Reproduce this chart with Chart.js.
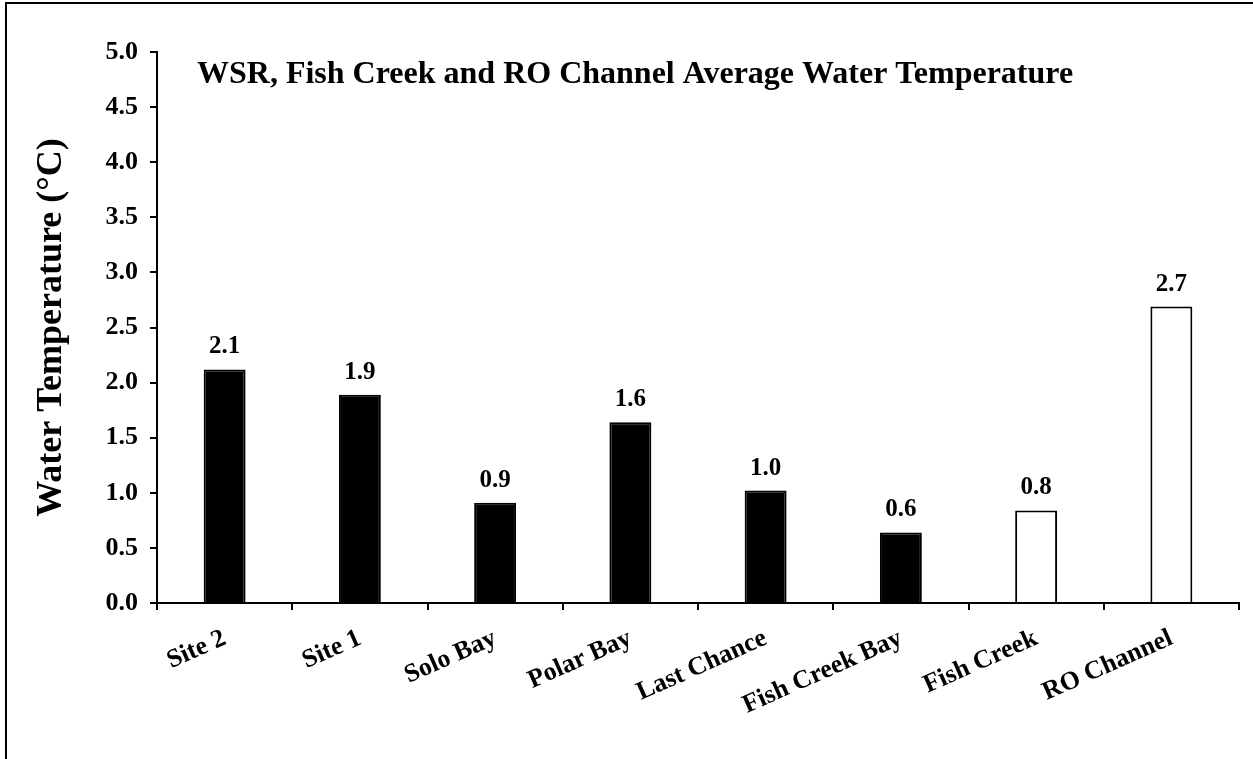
<!DOCTYPE html>
<html>
<head>
<meta charset="utf-8">
<script src="https://cdn.jsdelivr.net/npm/chart.js@4"></script>
<style>
  html, body { margin: 0; padding: 0; background: #fff; }
  #wrap { position: relative; width: 1253px; height: 759px; overflow: hidden; }
  #frame { position: absolute; left: 5px; top: 2px; width: 1400px; height: 900px;
           border-top: 2px solid #000; border-left: 2px solid #000; }
  canvas { position: absolute; left: 0; top: 0; }
</style>
</head>
<body>
<div id="wrap">
  <div id="frame"></div>
  <canvas id="tempChart" width="1253" height="759"></canvas>
</div>
<script>
// sites along the x axis
const sites = ['Site 2', 'Site 1', 'Solo Bay', 'Polar Bay', 'Last Chance', 'Fish Creek Bay', 'Fish Creek', 'RO Channel'];
// average water temperature (deg C)
const avgTemp = [2.12, 1.89, 0.91, 1.64, 1.02, 0.64, 0.84, 2.69];
// which area each site belongs to
const siteArea = ['WSR', 'WSR', 'WSR', 'WSR', 'WSR', 'WSR', 'Fish Creek', 'RO Channel'];
// y axis ticks
const yMin = 0;
const yMax = 5;
const yStep = 0.5;

const chartTitle = 'WSR, Fish Creek and RO Channel Average Water Temperature';
const serif = '"Liberation Serif", "Times New Roman", serif';

// draws the value above each bar and the title inside the plot
const labelsPlugin = {
    id: 'barLabels',
    afterDatasetsDraw(chart) {
        const ctx = chart.ctx;
        const meta = chart.getDatasetMeta(0);
        ctx.save();
        ctx.fillStyle = '#000';
        ctx.font = 'bold 25px ' + serif;
        ctx.textAlign = 'center';
        ctx.textBaseline = 'alphabetic';
        meta.data.forEach(function(bar, i) {
            ctx.fillText(avgTemp[i].toFixed(1), bar.x, bar.y - 16);
        });

        ctx.font = 'bold 32px ' + serif;
        ctx.textAlign = 'left';
        ctx.fillText(chartTitle, chart.chartArea.left + 40, 83);
        ctx.restore();
    }
};

const ctx = document.getElementById('tempChart').getContext('2d');

const tempChart = new Chart(ctx, {
    type: 'bar',
    data: {
        labels: sites,
        datasets: [{
            label: 'Water Temperature',
            data: avgTemp,
            backgroundColor: function(c) {
                return siteArea[c.dataIndex] === 'WSR' ? '#000' : '#fff';
            },
            borderColor: '#000',
            borderWidth: 2,
            barPercentage: 0.31,
            categoryPercentage: 1
        }]
    },
    options: {
        responsive: false,
        animation: false,
        layout: {
            padding: { left: 0, right: 14, top: 52, bottom: 0 }
        },
        plugins: {
            legend: { display: false },
            title: { display: false },
            tooltip: { enabled: false }
        },
        scales: {
            y: {
                min: yMin,
                max: yMax,
                afterFit: function(scale) { scale.width = 157; },
                border: { display: true, color: '#000', width: 2 },
                grid: {
                    drawOnChartArea: false,
                    color: '#000',
                    lineWidth: 2,
                    tickLength: 7
                },
                ticks: {
                    stepSize: yStep,
                    padding: 12,
                    color: '#000',
                    font: { family: serif, size: 26, weight: 'bold' },
                    callback: function(value) { return value.toFixed(1); }
                },
                title: {
                    display: true,
                    text: 'Water Temperature (°C)',
                    color: '#000',
                    font: { family: serif, size: 36, weight: 'bold' },
                    padding: { top: 30, bottom: 0 }
                }
            },
            x: {
                offset: true,
                afterFit: function(scale) { scale.height = 156; },
                border: { display: true, color: '#000', width: 2 },
                grid: {
                    offset: true,
                    drawOnChartArea: false,
                    color: '#000',
                    lineWidth: 2,
                    tickLength: 7
                },
                ticks: {
                    minRotation: 24,
                    maxRotation: 24,
                    autoSkip: false,
                    padding: 13,
                    color: '#000',
                    font: { family: serif, size: 26, weight: 'bold' }
                }
            }
        }
    },
    plugins: [labelsPlugin]
});
</script>
</body>
</html>
